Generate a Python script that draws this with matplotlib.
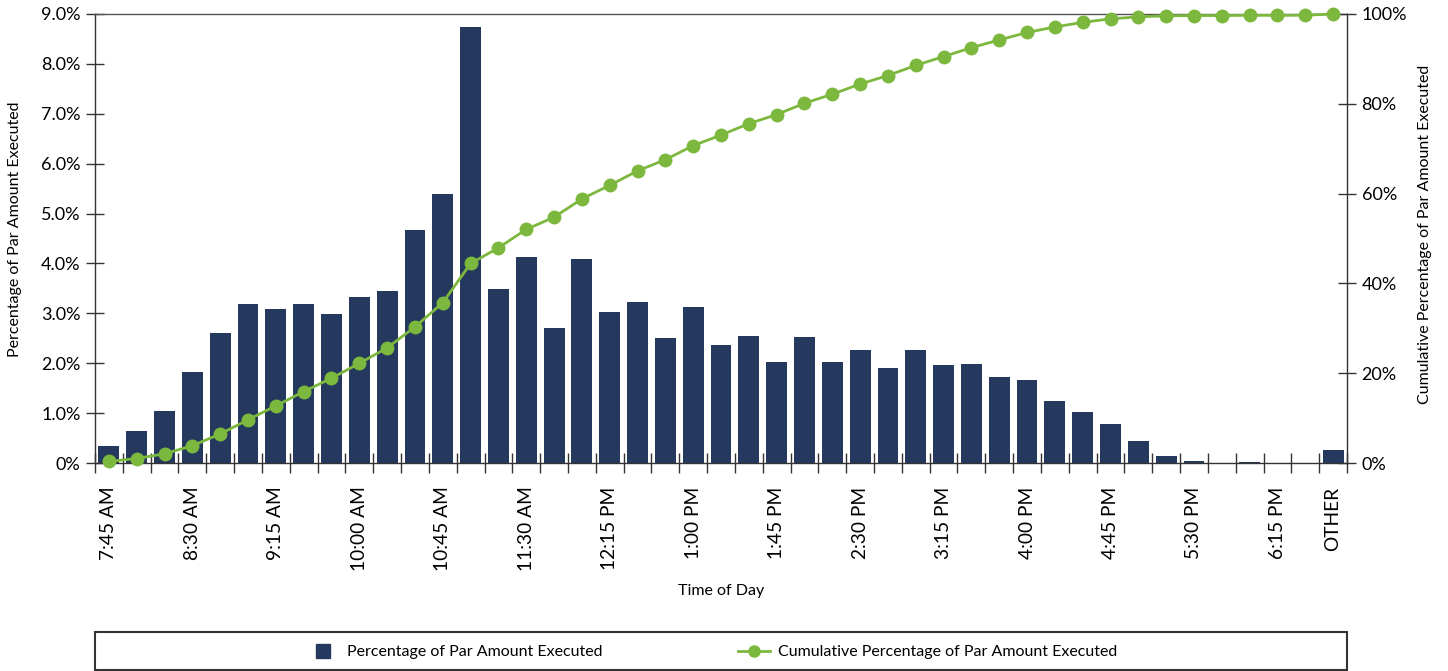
import matplotlib
matplotlib.use('Agg')
import matplotlib.pyplot as plt
from matplotlib.lines import Line2D
from matplotlib.patches import Rectangle

plt.rcParams['font.family'] = ['Lato', 'DejaVu Sans']

# Time buckets (15 min) plus OTHER
times = ['7:45 AM', '8:00 AM', '8:15 AM', '8:30 AM', '8:45 AM', '9:00 AM', '9:15 AM',
         '9:30 AM', '9:45 AM', '10:00 AM', '10:15 AM', '10:30 AM', '10:45 AM', '11:00 AM',
         '11:15 AM', '11:30 AM', '11:45 AM', '12:00 PM', '12:15 PM', '12:30 PM', '12:45 PM',
         '1:00 PM', '1:15 PM', '1:30 PM', '1:45 PM', '2:00 PM', '2:15 PM', '2:30 PM',
         '2:45 PM', '3:00 PM', '3:15 PM', '3:30 PM', '3:45 PM', '4:00 PM', '4:15 PM',
         '4:30 PM', '4:45 PM', '5:00 PM', '5:15 PM', '5:30 PM', '5:45 PM', '6:00 PM',
         '6:15 PM', '6:30 PM', 'OTHER']

# Percentage of par amount executed per bucket
pct_executed = [0.35, 0.65, 1.04, 1.82, 2.60, 3.18, 3.08, 3.18, 2.98, 3.32,
                3.44, 4.67, 5.39, 8.74, 3.48, 4.12, 2.70, 4.08, 3.02, 3.22,
                2.50, 3.12, 2.36, 2.54, 2.02, 2.52, 2.02, 2.26, 1.90, 2.26,
                1.96, 1.98, 1.72, 1.66, 1.24, 1.02, 0.78, 0.45, 0.14, 0.05,
                0.01, 0.03, 0.0, 0.0, 0.27]

# Cumulative percentage (right axis)
cum_pct = [0.35, 1.0, 2.04, 3.86, 6.46, 9.64, 12.72, 15.9, 18.88, 22.2,
           25.64, 30.31, 35.7, 44.44, 47.92, 52.04, 54.74, 58.82, 61.84, 65.06,
           67.56, 70.68, 73.04, 75.58, 77.6, 80.12, 82.14, 84.4, 86.3, 88.56,
           90.52, 92.5, 94.22, 95.88, 97.12, 98.14, 98.92, 99.37, 99.6, 99.65,
           99.66, 99.7, 99.7, 99.73, 100.0]

left_ticks = [0, 1, 2, 3, 4, 5, 6, 7, 8, 9]
left_tick_labels = ['0%', '1.0%', '2.0%', '3.0%', '4.0%', '5.0%', '6.0%', '7.0%', '8.0%', '9.0%']
right_ticks = [0, 20, 40, 60, 80, 100]
right_tick_labels = ['0%', '20%', '40%', '60%', '80%', '100%']

bar_color = '#25395f'
line_color = '#7cb83e'
spine_color = '#333333'

fig = plt.figure(figsize=(14.48, 6.71), dpi=100)
ax = fig.add_axes([95 / 1448, 1 - 463 / 671, 1252 / 1448, 449 / 671])

x = list(range(len(times)))
ax.bar(x, pct_executed, width=0.75, color=bar_color, zorder=2)
ax.set_xlim(-0.5, len(times) - 0.5)
ax.set_ylim(0, 9)

# labels every third bucket, plus OTHER
label_idx = list(range(0, 43, 3)) + [len(times) - 1]
ax.set_xticks(label_idx)
ax.set_xticklabels([times[i] for i in label_idx], rotation=90, fontsize=13.8)
ax.tick_params(axis='x', which='major', length=0, pad=17)
ax.set_xticks([i - 0.5 for i in range(len(times) + 1)], minor=True)
ax.tick_params(axis='x', which='minor', direction='inout', length=14, width=1, color=spine_color)

ax.set_yticks(left_ticks)
ax.set_yticklabels(left_tick_labels, fontsize=13)
ax.tick_params(axis='y', direction='inout', length=13, width=1, color=spine_color, pad=4)

for s in ax.spines.values():
    s.set_color(spine_color)
    s.set_linewidth(1)
ax.spines['top'].set_color('#555555')

ax.set_xlabel('Time of Day', fontsize=11.5)
ax.xaxis.set_label_coords(0.5, -0.27)
ax.set_ylabel('Percentage of Par Amount Executed', fontsize=11.5)
ax.yaxis.set_label_coords(-0.058, 0.52)

ax2 = ax.twinx()
ax2.plot(x, cum_pct, color=line_color, linewidth=2, marker='o', markersize=10,
         markeredgewidth=0, clip_on=False, zorder=3)
ax2.set_ylim(0, 100)
ax2.set_yticks(right_ticks)
ax2.set_yticklabels(right_tick_labels, fontsize=13)
ax2.tick_params(axis='y', direction='inout', length=13, width=1, color=spine_color, pad=4)
for s in ax2.spines.values():
    s.set_visible(False)
ax2.set_ylabel('Cumulative Percentage of Par Amount Executed', fontsize=11.5)
ax2.yaxis.set_label_coords(1.057, 0.51)

# legend box spanning the plot width
fig.patches.append(Rectangle((95 / 1448, 1 / 671), 1252 / 1448, 38 / 671,
                             transform=fig.transFigure, fill=False,
                             edgecolor=spine_color, linewidth=1.5))
handles = [Line2D([], [], color=bar_color, marker='s', linestyle='none', markersize=10),
           Line2D([], [], color=line_color, marker='o', linewidth=2, markersize=8)]
fig.legend(handles, ['Percentage of Par Amount Executed',
                     'Cumulative Percentage of Par Amount Executed'],
           loc='center', bbox_to_anchor=(0.492, 1 - 652 / 671), ncol=2, frameon=False,
           fontsize=11.5, handlelength=2.0, handletextpad=0.5, columnspacing=8.5)

fig.savefig('out.png', dpi=100)
